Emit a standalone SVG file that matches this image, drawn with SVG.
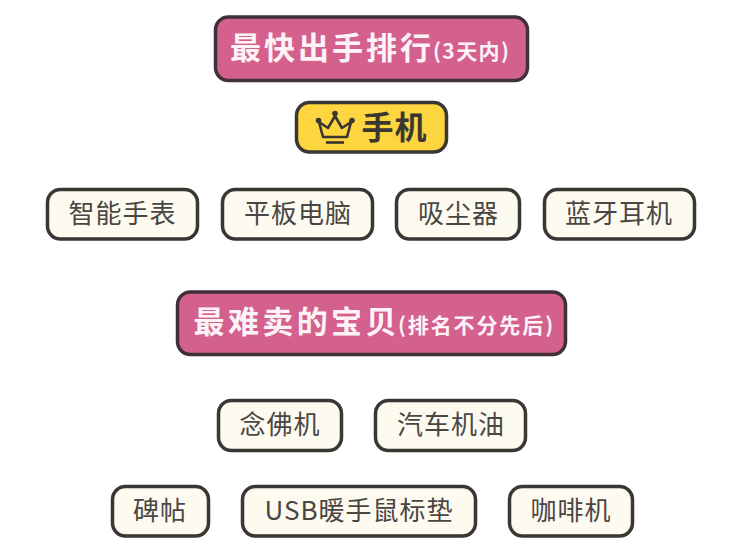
<svg xmlns="http://www.w3.org/2000/svg" width="750" height="547" viewBox="0 0 750 547">
<style>
text{font-family:"Noto Sans CJK SC","Noto Sans",sans-serif;text-anchor:middle}
.box{stroke:#3a3633;stroke-width:3.5}
.cream{fill:#fdfaf0}
.pink{fill:#d3608d;stroke:#40303a}
.yellow{fill:#fdd53f}
.lab{font-size:26px;fill:#4a4644;letter-spacing:1px}
.head{font-size:31px;font-weight:700;fill:#fdf3f6;letter-spacing:3px;text-anchor:start}
.small{font-size:21px;letter-spacing:1.400px}
.wide{letter-spacing:3.400px}
.small.wide{letter-spacing:1.900px}
</style>
<rect width="750" height="547" fill="#fff"/>
<g id="title1"><rect class="box pink" x="215.500" y="17" width="312" height="63.500" rx="13"/><text class="head" x="230" y="59">最快出手排行<tspan class="small" dx="-1">(3天内)</tspan></text></g>
<g id="top"><rect class="box yellow" x="296.500" y="102.500" width="150" height="49.500" rx="13"/>
<g fill="none" stroke="#3a3632" stroke-width="2.600" stroke-linejoin="round"><path d="M319 122l9 6 7-12 7 12 9-6-4 15h-24z"/><path d="M326 142.500h18"/></g>
<g fill="#3a3632"><circle cx="335" cy="113.500" r="2.800"/><circle cx="318.500" cy="120.500" r="2.800"/><circle cx="352" cy="120.500" r="2.800"/></g>
<text x="394.500" y="139" font-size="32" font-weight="700" fill="#3a3632" letter-spacing="1">手机</text></g>
<g id="n1"><rect class="box cream" x="47.500" y="189.500" width="150" height="49.500" rx="13"/><text class="lab" x="122.500" y="223">智能手表</text></g>
<g id="n2"><rect class="box cream" x="222.500" y="189.500" width="150" height="49.500" rx="13"/><text class="lab" x="298" y="223">平板电脑</text></g>
<g id="n3"><rect class="box cream" x="396.500" y="189.500" width="123" height="49.500" rx="13"/><text class="lab" x="458.500" y="223">吸尘器</text></g>
<g id="n4"><rect class="box cream" x="544.500" y="189.500" width="150" height="49.500" rx="13"/><text class="lab" x="619" y="223">蓝牙耳机</text></g>
<g id="title2"><rect class="box pink" x="177.500" y="292" width="388" height="62.500" rx="13"/><text class="head wide" x="193.500" y="333">最难卖的宝贝<tspan class="small wide" dx="-2">(排名不分先后)</tspan></text></g>
<g id="n5"><rect class="box cream" x="218.500" y="400.500" width="123" height="50" rx="13"/><text class="lab" x="280" y="434">念佛机</text></g>
<g id="n6"><rect class="box cream" x="375.500" y="400.500" width="150" height="50" rx="13"/><text class="lab" x="451" y="434">汽车机油</text></g>
<g id="n7"><rect class="box cream" x="112.500" y="486.500" width="96" height="49.500" rx="13"/><text class="lab" x="160" y="520">碑帖</text></g>
<g id="n8"><rect class="box cream" x="242.500" y="486.500" width="233" height="49.500" rx="13"/><text class="lab" x="359" y="520">USB暖手鼠标垫</text></g>
<g id="n9"><rect class="box cream" x="509.500" y="486.500" width="123" height="49.500" rx="13"/><text class="lab" x="571" y="520">咖啡机</text></g>
<g id="connectors"/>
</svg>
